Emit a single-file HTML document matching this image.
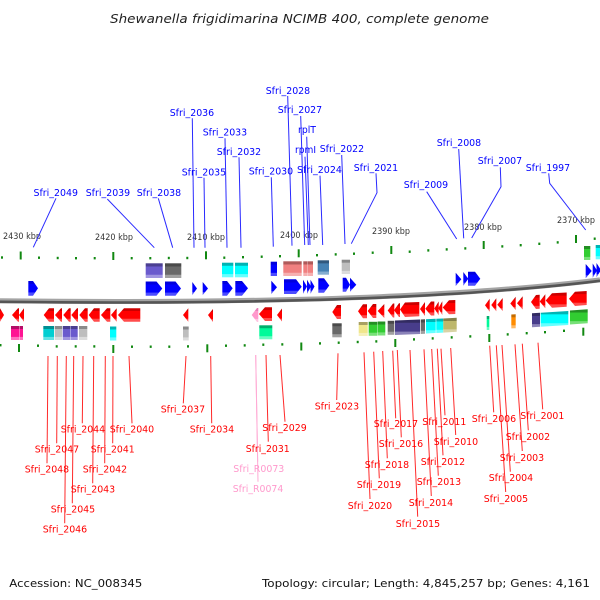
<!DOCTYPE html>
<html><head><meta charset="utf-8"><style>
html,body{margin:0;padding:0;background:#fff}
svg{display:block}
text{font-family:"DejaVu Sans","Liberation Sans",sans-serif;white-space:pre}
.b text{fill:#0000ff;font-size:10px}
.r text{fill:#ff0000;font-size:10px}
.p text{fill:#ff99cc;font-size:10px}
.k text{fill:#333;font-size:8.5px}
</style></head><body>
<svg width="600" height="600" viewBox="0 0 600 600" xmlns="http://www.w3.org/2000/svg">
<defs>
<linearGradient id="red" x1="0" y1="0" x2="0" y2="1"><stop offset=".2" stop-color="#cc0000"/><stop offset=".22" stop-color="#ff0000"/><stop offset=".76" stop-color="#ff0000"/><stop offset=".8" stop-color="#ff4c4c"/></linearGradient>
<linearGradient id="blue" x1="0" y1="0" x2="0" y2="1"><stop offset=".2" stop-color="#0000dd"/><stop offset=".22" stop-color="#0000ff"/><stop offset=".76" stop-color="#0000ff"/><stop offset=".8" stop-color="#4c4cff"/></linearGradient>
<linearGradient id="cyan" x1="0" y1="0" x2="0" y2="1"><stop offset=".2" stop-color="#00b4b4"/><stop offset=".22" stop-color="#00ffff"/><stop offset=".76" stop-color="#00ffff"/><stop offset=".8" stop-color="#66ffff"/></linearGradient>
<linearGradient id="slate" x1="0" y1="0" x2="0" y2="1"><stop offset=".2" stop-color="#4b3f91"/><stop offset=".22" stop-color="#6a5acd"/><stop offset=".76" stop-color="#6a5acd"/><stop offset=".8" stop-color="#a095e0"/></linearGradient>
<linearGradient id="dim" x1="0" y1="0" x2="0" y2="1"><stop offset=".2" stop-color="#4a4a4a"/><stop offset=".22" stop-color="#696969"/><stop offset=".76" stop-color="#696969"/><stop offset=".8" stop-color="#a0a0a0"/></linearGradient>
<linearGradient id="silver" x1="0" y1="0" x2="0" y2="1"><stop offset=".2" stop-color="#8a8a8a"/><stop offset=".22" stop-color="#bebebe"/><stop offset=".76" stop-color="#bebebe"/><stop offset=".8" stop-color="#dcdcdc"/></linearGradient>
<linearGradient id="coral" x1="0" y1="0" x2="0" y2="1"><stop offset=".2" stop-color="#b05a5a"/><stop offset=".22" stop-color="#f08080"/><stop offset=".76" stop-color="#f08080"/><stop offset=".8" stop-color="#f6b0b0"/></linearGradient>
<linearGradient id="steel" x1="0" y1="0" x2="0" y2="1"><stop offset=".2" stop-color="#31597e"/><stop offset=".22" stop-color="#4682b4"/><stop offset=".76" stop-color="#4682b4"/><stop offset=".8" stop-color="#85aed0"/></linearGradient>
<linearGradient id="lime" x1="0" y1="0" x2="0" y2="1"><stop offset=".2" stop-color="#238f23"/><stop offset=".22" stop-color="#32cd32"/><stop offset=".76" stop-color="#32cd32"/><stop offset=".8" stop-color="#78e078"/></linearGradient>
<linearGradient id="deep" x1="0" y1="0" x2="0" y2="1"><stop offset=".2" stop-color="#b30e67"/><stop offset=".22" stop-color="#ff1493"/><stop offset=".76" stop-color="#ff1493"/><stop offset=".8" stop-color="#ff70bd"/></linearGradient>
<linearGradient id="turq" x1="0" y1="0" x2="0" y2="1"><stop offset=".2" stop-color="#009093"/><stop offset=".22" stop-color="#00ced1"/><stop offset=".76" stop-color="#00ced1"/><stop offset=".8" stop-color="#60e2e4"/></linearGradient>
<linearGradient id="spring" x1="0" y1="0" x2="0" y2="1"><stop offset=".2" stop-color="#00af6c"/><stop offset=".22" stop-color="#00fa9a"/><stop offset=".76" stop-color="#00fa9a"/><stop offset=".8" stop-color="#66fcc2"/></linearGradient>
<linearGradient id="khaki" x1="0" y1="0" x2="0" y2="1"><stop offset=".2" stop-color="#a8a162"/><stop offset=".22" stop-color="#f0e68c"/><stop offset=".76" stop-color="#f0e68c"/><stop offset=".8" stop-color="#f6f0ba"/></linearGradient>
<linearGradient id="dslate" x1="0" y1="0" x2="0" y2="1"><stop offset=".2" stop-color="#322b61"/><stop offset=".22" stop-color="#483d8b"/><stop offset=".76" stop-color="#483d8b"/><stop offset=".8" stop-color="#8a82b8"/></linearGradient>
<linearGradient id="dkhaki" x1="0" y1="0" x2="0" y2="1"><stop offset=".2" stop-color="#848048"/><stop offset=".22" stop-color="#bdb76b"/><stop offset=".76" stop-color="#bdb76b"/><stop offset=".8" stop-color="#d8d3a5"/></linearGradient>
<linearGradient id="orange" x1="0" y1="0" x2="0" y2="1"><stop offset=".2" stop-color="#c46c00"/><stop offset=".22" stop-color="#ff8c00"/><stop offset=".76" stop-color="#ff8c00"/><stop offset=".8" stop-color="#ffba66"/></linearGradient>
<linearGradient id="lpink" x1="0" y1="0" x2="0" y2="1"><stop offset=".2" stop-color="#e87fb8"/><stop offset=".22" stop-color="#ff99cc"/><stop offset=".76" stop-color="#ff99cc"/><stop offset=".8" stop-color="#ffc4e1"/></linearGradient>
</defs>

<!-- title and footer -->
<text x="110" y="23" font-size="12" font-style="italic" fill="#222" textLength="379" lengthAdjust="spacingAndGlyphs">Shewanella frigidimarina NCIMB 400, complete genome</text>
<text x="9.3" y="587" font-size="11" fill="#111" textLength="133" lengthAdjust="spacingAndGlyphs">Accession: NC_008345</text>
<text x="262" y="587" font-size="11" fill="#111" textLength="328" lengthAdjust="spacingAndGlyphs">Topology: circular; Length: 4,845,257 bp; Genes: 4,161</text>

<!-- kbp labels -->
<g class="k">
<text x="3" y="239" textLength="38" lengthAdjust="spacingAndGlyphs">2430 kbp</text>
<text x="95" y="240" textLength="38" lengthAdjust="spacingAndGlyphs">2420 kbp</text>
<text x="187" y="240" textLength="38" lengthAdjust="spacingAndGlyphs">2410 kbp</text>
<text x="280" y="238" textLength="38" lengthAdjust="spacingAndGlyphs">2400 kbp</text>
<text x="372" y="234" textLength="38" lengthAdjust="spacingAndGlyphs">2390 kbp</text>
<text x="464" y="230" textLength="38" lengthAdjust="spacingAndGlyphs">2380 kbp</text>
<text x="557" y="223" textLength="38" lengthAdjust="spacingAndGlyphs">2370 kbp</text>
</g>

<!-- blue connectors -->
<g stroke="#2a2aff" stroke-width="1" fill="none">
<path d="M56,198.3L33.3,247.3"/><path d="M107.3,199L154.3,247.7"/><path d="M158.3,198.3L172.7,247.7"/>
<path d="M192.3,118.3L194,247.7"/><path d="M204,177.7L205,247.7"/><path d="M225,138.3L227,247.7"/>
<path d="M239,157.3L241,247.7"/><path d="M271.3,177.3L273.3,246.7"/><path d="M287.7,96L292,245.7"/>
<path d="M300.7,116L304.7,245"/><path d="M306.7,136.7L310,245"/><path d="M305,156.7L308.3,245"/>
<path d="M320,175.7L322.7,245"/><path d="M341.7,155L345,244"/><path d="M376,173.3L377,192.7L351.3,243.7"/>
<path d="M426.7,191.7L456.7,239"/><path d="M458.7,149L463.7,238.3"/><path d="M500.3,167.3L501,186.7L471.7,238"/>
<path d="M548.7,173.3L549.7,183.3L585.7,230"/>
</g>

<!-- blue labels -->
<g class="b">
<text x="33.5" y="196" textLength="44.5" lengthAdjust="spacingAndGlyphs">Sfri_2049</text>
<text x="85.7" y="196" textLength="44.5" lengthAdjust="spacingAndGlyphs">Sfri_2039</text>
<text x="136.7" y="196" textLength="44.5" lengthAdjust="spacingAndGlyphs">Sfri_2038</text>
<text x="181.7" y="175.5" textLength="44.5" lengthAdjust="spacingAndGlyphs">Sfri_2035</text>
<text x="169.7" y="116" textLength="44.5" lengthAdjust="spacingAndGlyphs">Sfri_2036</text>
<text x="202.7" y="135.5" textLength="44.5" lengthAdjust="spacingAndGlyphs">Sfri_2033</text>
<text x="216.7" y="155" textLength="44.5" lengthAdjust="spacingAndGlyphs">Sfri_2032</text>
<text x="248.7" y="174.5" textLength="44.5" lengthAdjust="spacingAndGlyphs">Sfri_2030</text>
<text x="265.7" y="94" textLength="44.5" lengthAdjust="spacingAndGlyphs">Sfri_2028</text>
<text x="277.7" y="113" textLength="44.5" lengthAdjust="spacingAndGlyphs">Sfri_2027</text>
<text x="298" y="133" textLength="18" lengthAdjust="spacingAndGlyphs">rplT</text>
<text x="295" y="153" textLength="21" lengthAdjust="spacingAndGlyphs">rpmI</text>
<text x="297" y="173" textLength="45" lengthAdjust="spacingAndGlyphs">Sfri_2024</text>
<text x="319.7" y="152" textLength="44.5" lengthAdjust="spacingAndGlyphs">Sfri_2022</text>
<text x="353.7" y="171" textLength="44.5" lengthAdjust="spacingAndGlyphs">Sfri_2021</text>
<text x="403.7" y="188" textLength="44.5" lengthAdjust="spacingAndGlyphs">Sfri_2009</text>
<text x="436.7" y="146" textLength="44.5" lengthAdjust="spacingAndGlyphs">Sfri_2008</text>
<text x="477.7" y="164" textLength="44.5" lengthAdjust="spacingAndGlyphs">Sfri_2007</text>
<text x="525.7" y="171" textLength="44.5" lengthAdjust="spacingAndGlyphs">Sfri_1997</text>
</g>

<!-- top ticks -->
<g fill="#118811">
<rect x="1" y="256.3" width="2" height="2.4"/><rect x="38" y="256.5" width="2" height="2.4"/><rect x="56.7" y="256.8" width="2" height="2.4"/><rect x="75" y="257" width="2" height="2.4"/><rect x="93.7" y="257" width="2" height="2.4"/>
<rect x="130.7" y="257" width="2" height="2.4"/><rect x="149.3" y="257" width="2" height="2.4"/><rect x="167.8" y="256.8" width="2" height="2.4"/><rect x="186.3" y="256.8" width="2" height="2.4"/>
<rect x="223.3" y="256.5" width="2" height="2.4"/><rect x="242" y="256" width="2" height="2.4"/><rect x="260.7" y="255.5" width="2" height="2.4"/><rect x="279" y="255" width="2" height="2.4"/>
<rect x="316" y="254" width="2" height="2.4"/><rect x="334.7" y="253.2" width="2" height="2.4"/><rect x="353" y="252.5" width="2" height="2.4"/><rect x="371.7" y="251.5" width="2" height="2.4"/>
<rect x="408.7" y="250.5" width="2" height="2.4"/><rect x="427.3" y="249.2" width="2" height="2.4"/><rect x="445.7" y="248.2" width="2" height="2.4"/><rect x="464.3" y="247.2" width="2" height="2.4"/>
<rect x="501.3" y="245.2" width="2" height="2.4"/><rect x="519.7" y="244" width="2" height="2.4"/><rect x="538.3" y="242.6" width="2" height="2.4"/><rect x="556.7" y="241.2" width="2" height="2.4"/><rect x="593.7" y="237.5" width="2" height="2.4"/>
<rect x="19.7" y="251.5" width="2" height="8"/><rect x="112.3" y="252" width="2" height="8"/><rect x="205" y="251.3" width="2" height="8"/><rect x="297.7" y="249.3" width="2" height="8"/><rect x="390.3" y="246" width="2" height="8"/><rect x="482.7" y="241" width="2" height="8"/><rect x="575" y="235" width="2" height="8"/>
</g>

<!-- bottom ticks -->
<g fill="#118811">
<rect x="-0.5" y="344" width="2" height="2.4"/><rect x="37" y="344.5" width="2" height="2.4"/><rect x="55.7" y="345.2" width="2" height="2.4"/><rect x="74.7" y="345.2" width="2" height="2.4"/><rect x="93.3" y="345.2" width="2" height="2.4"/>
<rect x="131" y="345.5" width="2" height="2.4"/><rect x="149.7" y="345.5" width="2" height="2.4"/><rect x="168.3" y="345.5" width="2" height="2.4"/><rect x="187" y="345.2" width="2" height="2.4"/>
<rect x="225" y="344.5" width="2" height="2.4"/><rect x="243.7" y="344.2" width="2" height="2.4"/><rect x="262.3" y="343.5" width="2" height="2.4"/><rect x="281.3" y="343.2" width="2" height="2.4"/>
<rect x="319" y="342.2" width="2" height="2.4"/><rect x="337.7" y="341.5" width="2" height="2.4"/><rect x="356.7" y="340.8" width="2" height="2.4"/><rect x="375.3" y="340.2" width="2" height="2.4"/>
<rect x="413" y="338.2" width="2" height="2.4"/><rect x="431.7" y="337.2" width="2" height="2.4"/><rect x="450.7" y="336.2" width="2" height="2.4"/><rect x="469.3" y="335.2" width="2" height="2.4"/>
<rect x="506.7" y="333.2" width="2" height="2.4"/><rect x="525.7" y="332" width="2" height="2.4"/><rect x="544" y="331" width="2" height="2.4"/><rect x="563" y="329.6" width="2" height="2.4"/>
<rect x="18" y="344" width="2" height="8"/><rect x="112.3" y="345" width="2" height="8"/><rect x="206.3" y="344.3" width="2" height="8"/><rect x="300.3" y="342.5" width="2" height="8"/><rect x="394.3" y="339" width="2" height="8"/><rect x="488.3" y="334" width="2" height="8"/><rect x="582.3" y="327.7" width="2" height="8"/>
</g>

<!-- upper feature boxes -->
<rect x="145.7" y="263.3" width="17" height="14.7" fill="url(#slate)"/>
<rect x="165" y="263.3" width="16.3" height="14.7" fill="url(#dim)"/>
<rect x="222" y="262.7" width="11.3" height="14.6" fill="url(#cyan)"/>
<rect x="235" y="262.7" width="13" height="14.6" fill="url(#cyan)"/>
<rect x="270.7" y="261.7" width="6.3" height="14.3" fill="url(#blue)"/>
<rect x="283.3" y="261.3" width="18.4" height="14.7" fill="url(#coral)"/>
<rect x="303.3" y="261.3" width="4.4" height="14.7" fill="url(#coral)"/>
<rect x="308" y="261.3" width="5" height="14.7" fill="url(#coral)"/>
<rect x="317.7" y="260.3" width="11.3" height="14.4" fill="url(#steel)"/>
<rect x="341.7" y="259.7" width="8.3" height="14.3" fill="url(#silver)"/>
<rect x="584" y="246" width="6.3" height="14" fill="url(#lime)"/>
<rect x="595.7" y="245" width="5" height="14.3" fill="url(#cyan)"/>

<!-- forward genes -->
<g fill="url(#blue)">
<polygon points="28.3,281 33,281 38,288.3 33,295.7 28.3,295.7"/>
<polygon points="145.7,281.5 156.5,281.5 162.3,288.5 156.5,295.7 145.7,295.7"/>
<polygon points="165,281.5 175.5,281.5 181,288.5 175.5,295.7 165,295.7"/>
<polygon points="192.3,282 197,288.5 192.3,295"/>
<polygon points="202.7,282 208,288.5 202.7,295"/>
<polygon points="222.3,281 227,281 232.7,288.3 227,295.7 222.3,295.7"/>
<polygon points="235.3,281 242,281 248,288.3 242,295.7 235.3,295.7"/>
<polygon points="271.3,280.7 277,287.3 271.3,294"/>
<polygon points="284,279.3 296,279.3 301.7,286.7 296,294 284,294"/>
<polygon points="303,279.7 307,286.5 303,293.7"/>
<polygon points="307,279.7 311,286.5 307,293.7"/>
<polygon points="310.5,279.7 314.5,286.5 310.5,293.7"/>
<polygon points="318.3,278.3 324,278.3 329.3,285.5 324,292.7 318.3,292.7"/>
<polygon points="342.7,277.7 346,277.7 350,284.7 346,291.7 342.7,291.7"/>
<polygon points="350,277.7 356.3,284.7 350,291.7"/>
<polygon points="455.7,272.7 461.3,279.3 455.7,286"/>
<polygon points="463.3,272 468.3,278.8 463.3,285.7"/>
<polygon points="468,271.7 475,271.7 480.3,278.7 475,285.7 468,285.7"/>
<polygon points="585.7,264 591.7,271 585.7,278.3"/>
<polygon points="592.7,263.5 597,270.5 592.7,277.7"/>
<polygon points="596.5,263 601,270 596.5,277.2"/>
</g>

<!-- genome band -->
<path d="M0,300.8C130,302.3 270,301.8 400,295.8C470,292.3 540,287.3 600,279.8" fill="none" stroke="#a4a4a4" stroke-width="5"/>
<path d="M0,301.8C130,303.3 270,302.8 400,296.8C470,293.3 540,288.3 600,280.8" fill="none" stroke="#555555" stroke-width="2.6"/>

<!-- reverse genes -->
<g fill="url(#red)">
<polygon points="0,308.3 4,315 0,321.7"/>
<polygon points="12,315 18,308.3 19,308.3 19,321.7 18,321.7"/>
<polygon points="19,315 24,308.3 24,321.7"/>
<polygon points="43.7,315 49,308.3 54,308.3 54,321.7 49,321.7"/>
<polygon points="55,315 61,308.3 62,308.3 62,321.7 61,321.7"/>
<polygon points="63.3,315 69,308.3 70.7,308.3 70.7,321.7 69,321.7"/>
<polygon points="71.3,315 77,308.3 78,308.3 78,321.7 77,321.7"/>
<polygon points="79.3,315 85,308.3 87.7,308.3 87.7,321.7 85,321.7"/>
<polygon points="88.7,315 94,308.3 99.7,308.3 99.7,321.7 94,321.7"/>
<polygon points="101,315 107,308.3 110.3,308.3 110.3,321.7 107,321.7"/>
<polygon points="111,315 116.7,308.3 116.7,321.7"/>
<polygon points="118,315 124,308.3 140.3,308.3 140.3,321.7 124,321.7"/>
<polygon points="183,315 188.3,308.3 188.3,321.7"/>
<polygon points="208,315 213,309 213,322"/>
<polygon points="259,314 265,307.3 272,307.3 272,321 265,321"/>
<polygon points="277,315 282,308.5 282,321.5"/>
<polygon points="332.3,312 337,305 341,305 341,319 337,319"/>
<polygon points="358,311.3 363,304.3 367,304.3 367,318.3 363,318.3"/>
<polygon points="367.7,311 373,304 376.3,304 376.3,318 373,318"/>
<polygon points="377.7,311 384.3,304 384.3,318"/>
<polygon points="387.7,310.5 393,303.5 394.3,303.5 394.3,317.5 393,317.5"/>
<polygon points="394,310.3 399,303.3 400,303.3 400,317 399,317"/>
<polygon points="400,309.5 405,302.5 419.3,302 419.3,316.2 405,317"/>
<polygon points="420,309 425,302 425,316"/>
<polygon points="425.3,308.8 431,301.5 434.3,301.5 434.3,315.5 431,315.5"/>
<polygon points="434.3,308.5 438.7,301.5 438.7,315.3"/>
<polygon points="438.3,308.3 442.3,301.3 442.3,315"/>
<polygon points="442.7,307.5 449,300.3 455.3,300 455.3,314 449,314.3"/>
<polygon points="485,305.3 489.7,298.7 489.7,311.7"/>
<polygon points="491.3,305 496.3,298.3 496.3,311.3"/>
<polygon points="497.3,304.7 502.7,298 502.7,311"/>
<polygon points="510.3,303.5 515.7,296.7 515.7,310"/>
<polygon points="517,303.2 522.7,296.2 522.7,309.5"/>
<polygon points="531,302 536,295 539.7,294.7 539.7,308.7 536,309"/>
<polygon points="539.7,301.5 545.3,294.3 545.3,308.3"/>
<polygon points="545.7,300.5 552,293.2 566.7,292.5 566.7,306.7 552,307.7"/>
<polygon points="569,298.7 575,291.7 586.7,291 586.7,305 575,306"/>
</g>
<polygon points="251.7,315 257,308 258.3,308 258.3,322 257,322" fill="url(#lpink)"/>

<!-- lower feature boxes -->
<rect x="11" y="326" width="8.3" height="14" fill="url(#deep)"/>
<rect x="19.7" y="326" width="3.3" height="14" fill="url(#deep)"/>
<rect x="43.3" y="326" width="10.7" height="14" fill="url(#turq)"/>
<rect x="54.7" y="326" width="7.3" height="14" fill="url(#silver)"/>
<rect x="62.7" y="326" width="7.6" height="14" fill="url(#slate)"/>
<rect x="70.7" y="326" width="7" height="14" fill="url(#slate)"/>
<rect x="79" y="326" width="8.3" height="14" fill="url(#silver)"/>
<rect x="110" y="326.5" width="6.3" height="14" fill="url(#cyan)"/>
<rect x="183" y="326.5" width="5.7" height="14" fill="url(#silver)"/>
<rect x="259.3" y="325.3" width="13" height="14" fill="url(#spring)"/>
<rect x="332.3" y="323.3" width="9.4" height="14" fill="url(#dim)"/>
<rect x="358.7" y="322" width="9" height="14" fill="url(#khaki)"/>
<rect x="368.7" y="321.8" width="8.6" height="14" fill="url(#lime)"/>
<rect x="377.7" y="321.5" width="7.6" height="14" fill="url(#lime)"/>
<rect x="387.7" y="320.8" width="6.6" height="14" fill="url(#dim)"/>
<polygon points="395,320.5 420,319.5 420,334 395,335" fill="url(#dslate)"/>
<polygon points="420.7,319.5 425,319.3 425,333.7 420.7,334" fill="url(#dim)"/>
<polygon points="426,319.2 435.7,318.8 435.7,333 426,333.5" fill="url(#cyan)"/>
<polygon points="436.3,318.8 443.3,318.5 443.3,332.6 436.3,333" fill="url(#cyan)"/>
<polygon points="443.3,318.5 456.7,317.8 456.7,331.7 443.3,332.6" fill="url(#dkhaki)"/>
<polygon points="486.7,316 489.3,316 489.3,330 486.7,330" fill="url(#spring)"/>
<polygon points="511.3,314.5 515.7,314.3 515.7,328.2 511.3,328.4" fill="url(#orange)"/>
<polygon points="532,313.3 540,312.8 540,326.8 532,327.3" fill="url(#dslate)"/>
<polygon points="540.7,312.7 568.3,311 568.3,325 540.7,326.7" fill="url(#cyan)"/>
<polygon points="570,310.5 587.7,309.3 587.7,323.3 570,324.5" fill="url(#lime)"/>

<!-- red connectors -->
<g stroke="#ff2a2a" stroke-width="1" fill="none">
<path d="M48,356L47,463.3"/><path d="M57.3,356L56.7,443.3"/><path d="M66.3,356L64.7,523.3"/><path d="M73.7,356L72.3,503.3"/>
<path d="M83,356L82.3,423.3"/><path d="M93.7,356L92.7,483.3"/><path d="M105.3,356L104.7,463.3"/><path d="M113,356L112.7,443.3"/>
<path d="M129,356L132,423.3"/><path d="M186,356L183.3,403.3"/><path d="M210.7,356L211.7,423.3"/>
<path d="M266,355L268.3,441.7"/><path d="M280,355L285,421.7"/>
<path d="M338,353.3L336.7,400"/><path d="M364,352.3L370,499"/><path d="M373.7,351.7L379.3,478.3"/><path d="M382.7,351L387.3,458.3"/>
<path d="M392.7,350.7L395.7,418.3"/><path d="M397.3,350L401.3,437.3"/><path d="M410,350L417.7,516.7"/><path d="M424,349.3L431.3,496"/>
<path d="M431.7,349L438.3,475.7"/><path d="M437.3,348.7L443,455.3"/><path d="M441,348.7L445,415.3"/><path d="M450.7,348L455.7,435"/>
<path d="M489.7,345.7L493.7,412.3"/><path d="M496.3,345.3L505.7,492"/><path d="M502,345L510.3,471.7"/><path d="M515,344.3L522.3,451"/>
<path d="M522.3,343.7L528.3,430.3"/><path d="M538,342.7L542.7,409.3"/>
</g>
<g stroke="#ffaad4" stroke-width="1" fill="none">
<path d="M255.7,355L257.7,461.7"/><path d="M255.7,355L258,481.7"/>
</g>

<!-- red labels -->
<g class="r">
<text x="109.7" y="432.5" textLength="44.5" lengthAdjust="spacingAndGlyphs">Sfri_2040</text>
<text x="60.7" y="432.5" textLength="44.5" lengthAdjust="spacingAndGlyphs">Sfri_2044</text>
<text x="34.7" y="452.5" textLength="44.5" lengthAdjust="spacingAndGlyphs">Sfri_2047</text>
<text x="90.7" y="452.5" textLength="44" lengthAdjust="spacingAndGlyphs">Sfri_2041</text>
<text x="24.7" y="472.5" textLength="44.5" lengthAdjust="spacingAndGlyphs">Sfri_2048</text>
<text x="82.7" y="472.5" textLength="44.5" lengthAdjust="spacingAndGlyphs">Sfri_2042</text>
<text x="70.7" y="492.5" textLength="44.5" lengthAdjust="spacingAndGlyphs">Sfri_2043</text>
<text x="50.7" y="512.5" textLength="44.5" lengthAdjust="spacingAndGlyphs">Sfri_2045</text>
<text x="42.7" y="532.5" textLength="44.5" lengthAdjust="spacingAndGlyphs">Sfri_2046</text>
<text x="160.7" y="412.5" textLength="44.5" lengthAdjust="spacingAndGlyphs">Sfri_2037</text>
<text x="189.7" y="432.5" textLength="44.5" lengthAdjust="spacingAndGlyphs">Sfri_2034</text>
<text x="262.3" y="431" textLength="44.5" lengthAdjust="spacingAndGlyphs">Sfri_2029</text>
<text x="245.7" y="452" textLength="44" lengthAdjust="spacingAndGlyphs">Sfri_2031</text>
<text x="314.7" y="409.5" textLength="44.5" lengthAdjust="spacingAndGlyphs">Sfri_2023</text>
<text x="373.7" y="427" textLength="44.5" lengthAdjust="spacingAndGlyphs">Sfri_2017</text>
<text x="378.7" y="447" textLength="44.5" lengthAdjust="spacingAndGlyphs">Sfri_2016</text>
<text x="364.7" y="468" textLength="44.5" lengthAdjust="spacingAndGlyphs">Sfri_2018</text>
<text x="356.7" y="488" textLength="44.5" lengthAdjust="spacingAndGlyphs">Sfri_2019</text>
<text x="347.7" y="509" textLength="44.5" lengthAdjust="spacingAndGlyphs">Sfri_2020</text>
<text x="395.7" y="527" textLength="44.5" lengthAdjust="spacingAndGlyphs">Sfri_2015</text>
<text x="408.7" y="506" textLength="44.5" lengthAdjust="spacingAndGlyphs">Sfri_2014</text>
<text x="416.7" y="485" textLength="44.5" lengthAdjust="spacingAndGlyphs">Sfri_2013</text>
<text x="420.7" y="465" textLength="44.5" lengthAdjust="spacingAndGlyphs">Sfri_2012</text>
<text x="422.3" y="425" textLength="44" lengthAdjust="spacingAndGlyphs">Sfri_2011</text>
<text x="433.7" y="445" textLength="44.5" lengthAdjust="spacingAndGlyphs">Sfri_2010</text>
<text x="471.7" y="422" textLength="44.5" lengthAdjust="spacingAndGlyphs">Sfri_2006</text>
<text x="483.7" y="502" textLength="44.5" lengthAdjust="spacingAndGlyphs">Sfri_2005</text>
<text x="488.7" y="481" textLength="44.5" lengthAdjust="spacingAndGlyphs">Sfri_2004</text>
<text x="499.7" y="461" textLength="44.5" lengthAdjust="spacingAndGlyphs">Sfri_2003</text>
<text x="505.7" y="440" textLength="44.5" lengthAdjust="spacingAndGlyphs">Sfri_2002</text>
<text x="520.3" y="419" textLength="44" lengthAdjust="spacingAndGlyphs">Sfri_2001</text>
</g>
<g class="p">
<text x="233.3" y="472" textLength="51" lengthAdjust="spacingAndGlyphs">Sfri_R0073</text>
<text x="232.7" y="492" textLength="50.6" lengthAdjust="spacingAndGlyphs">Sfri_R0074</text>
</g>
</svg>
</body></html>
